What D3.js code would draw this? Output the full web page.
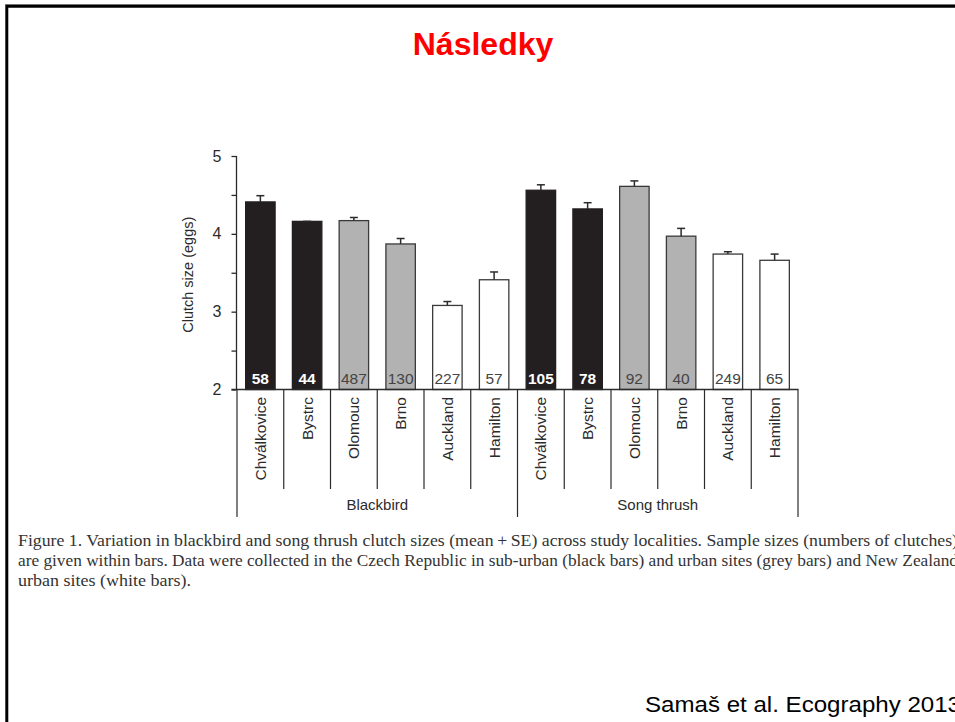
<!DOCTYPE html>
<html>
<head>
<meta charset="utf-8">
<script src="https://cdn.jsdelivr.net/npm/d3@7"></script>
<style>
  html, body { margin: 0; padding: 0; background: #fff; overflow: hidden; }
  svg { display: block; }
</style>
</head>
<body>
<svg id="chart" width="955" height="722"></svg>
<script>
// Clutch size per site for two thrush species
const species = ["Blackbird", "Song thrush"];
const sites = ["Chválkovice", "Bystrc", "Olomouc", "Brno", "Auckland", "Hamilton"];
const siteTypes = ["suburban", "suburban", "urban", "urban", "nz", "nz"];
const blackbirdMean = [4.41, 4.16, 4.17, 3.87, 3.08, 3.41];
const blackbirdSE   = [0.08, 0.00, 0.04, 0.07, 0.05, 0.10];
const blackbirdN    = [58, 44, 487, 130, 227, 57];
const songThrushMean = [4.56, 4.32, 4.61, 3.97, 3.74, 3.66];
const songThrushSE   = [0.07, 0.08, 0.07, 0.10, 0.03, 0.08];
const songThrushN    = [105, 78, 92, 40, 249, 65];
const yTicks = [2, 3, 4, 5];
const yMinorTicks = [2.5, 3.5, 4.5];

const titleText = "Následky";
const captionLines = [
  "Figure 1. Variation in blackbird and song thrush clutch sizes (mean\u2009+\u2009SE) across study localities. Sample sizes (numbers of clutches)",
  "are given within bars. Data were collected in the Czech Republic in sub-urban (black bars) and urban sites (grey bars) and New Zealand",
  "urban sites (white bars)."
];
const citation = "Samaš et al. Ecography 2013";

// Flat table built from the arrays above
const rows = [];
species.forEach((sp, si) => {
  const means = si === 0 ? blackbirdMean : songThrushMean;
  const ses = si === 0 ? blackbirdSE : songThrushSE;
  const ns = si === 0 ? blackbirdN : songThrushN;
  sites.forEach((site, i) => {
    rows.push({ key: sp + "|" + site, species: sp, site, type: siteTypes[i], mean: means[i], se: ses[i], n: ns[i] });
  });
});

const fillByType = { suburban: "#231f20", urban: "#b2b2b2", nz: "#ffffff" };
const strokeByType = { suburban: "#231f20", urban: "#3a3a3a", nz: "#3a3a3a" };
const labelByType = { suburban: "#ffffff", urban: "#444444", nz: "#444444" };

const svg = d3.select("#chart");
const sans = "Arial, 'Liberation Sans', Helvetica, sans-serif";
const ink = "#2b2b2b";

// Slide frame
svg.append("line").attr("x1", 5).attr("x2", 955).attr("y1", 4.5).attr("y2", 4.5)
  .attr("stroke", "#9a9a9a").attr("stroke-width", 1);
svg.append("path").attr("d", "M6.8,730 V6.3 H960")
  .attr("fill", "none").attr("stroke", "#000").attr("stroke-width", 3);

// Title
svg.append("text").attr("x", 483).attr("y", 55).attr("text-anchor", "middle")
  .attr("font-family", sans).attr("font-weight", "bold").attr("font-size", 32)
  .attr("fill", "#ff0000").text(titleText);

// Scales
const x = d3.scaleBand().domain(rows.map(d => d.key)).range([237, 798]).paddingInner(0.37).paddingOuter(0.185);
const step = x.step();
const y = d3.scaleLinear().domain([2, 5]).range([389.5, 156]);

const g = svg.append("g");

// Y axis
const yAxis = d3.axisLeft(y).tickValues(yTicks).tickSize(5).tickPadding(10).tickFormat(d3.format("d"));
const ya = g.append("g").attr("transform", "translate(236.5,0)").call(yAxis);
ya.select(".domain").attr("stroke", ink).attr("stroke-width", 1.3).attr("d", `M0,${y(5)}V${y(2)}`);
ya.selectAll(".tick line").attr("stroke", ink).attr("stroke-width", 1.3);
ya.selectAll(".tick text").attr("font-family", sans).attr("font-size", 16).attr("fill", ink);
const yMinor = d3.axisLeft(y).tickValues(yMinorTicks).tickSize(5).tickFormat("");
const ym = g.append("g").attr("transform", "translate(236.5,0)").call(yMinor);
ym.select(".domain").remove();
ym.selectAll(".tick line").attr("stroke", ink).attr("stroke-width", 1.3);

g.append("text")
  .attr("transform", `translate(193,${(y(2) + y(5)) / 2 + 2}) rotate(-90)`)
  .attr("text-anchor", "middle").attr("font-family", sans).attr("font-size", 14.5)
  .attr("fill", ink).text("Clutch size (eggs)");

// Bars
g.selectAll("rect.bar").data(rows).join("rect").attr("class", "bar")
  .attr("x", d => x(d.key)).attr("width", x.bandwidth())
  .attr("y", d => y(d.mean)).attr("height", d => y(2) - y(d.mean))
  .attr("fill", d => fillByType[d.type]).attr("stroke", d => strokeByType[d.type])
  .attr("stroke-width", 1.3);

// Error bars (mean + SE)
const eb = g.selectAll("g.err").data(rows).join("g").attr("class", "err");
eb.append("line")
  .attr("x1", d => x(d.key) + x.bandwidth() / 2).attr("x2", d => x(d.key) + x.bandwidth() / 2)
  .attr("y1", d => y(d.mean)).attr("y2", d => y(d.mean + d.se))
  .attr("stroke", ink).attr("stroke-width", 1.5);
eb.append("line")
  .attr("x1", d => x(d.key) + x.bandwidth() / 2 - 4).attr("x2", d => x(d.key) + x.bandwidth() / 2 + 4)
  .attr("y1", d => y(d.mean + d.se)).attr("y2", d => y(d.mean + d.se))
  .attr("stroke", ink).attr("stroke-width", 1.5);

// Sample sizes inside bars
g.selectAll("text.n").data(rows).join("text").attr("class", "n")
  .attr("x", d => x(d.key) + x.bandwidth() / 2).attr("y", y(2) - 5.5)
  .attr("text-anchor", "middle").attr("font-family", sans).attr("font-size", 15.5)
  .attr("font-weight", d => d.type === "suburban" ? "bold" : "normal")
  .attr("fill", d => labelByType[d.type]).text(d => d.n);

// Baseline
g.append("line").attr("x1", 231.5).attr("x2", 798.5).attr("y1", y(2)).attr("y2", y(2))
  .attr("stroke", ink).attr("stroke-width", 1.3);

// Category separators and labels
const left = x.range()[0];
rows.forEach((d, i) => {
  const bx = left + step * i;
  const isGroupEdge = i % sites.length === 0;
  g.append("line").attr("x1", bx).attr("x2", bx).attr("y1", y(2))
    .attr("y2", isGroupEdge ? 517 : 489).attr("stroke", ink).attr("stroke-width", 1.2);
});
g.append("line").attr("x1", x.range()[1]).attr("x2", x.range()[1]).attr("y1", y(2)).attr("y2", 517)
  .attr("stroke", ink).attr("stroke-width", 1.2);

g.selectAll("text.site").data(rows).join("text").attr("class", "site")
  .attr("transform", d => `translate(${x(d.key) + x.bandwidth() / 2 + 5.5},397) rotate(-90)`)
  .attr("text-anchor", "end").attr("font-family", sans).attr("font-size", 15.5)
  .attr("fill", ink).text(d => d.site);

species.forEach((sp, si) => {
  const x0 = left + step * sites.length * si;
  g.append("text").attr("x", x0 + step * sites.length / 2).attr("y", 510)
    .attr("text-anchor", "middle").attr("font-family", sans).attr("font-size", 15)
    .attr("fill", ink).text(sp);
});

// Figure caption
const capEnds = [958, 958, 191];
captionLines.forEach((line, i) => {
  svg.append("text").attr("x", 18).attr("y", 546 + i * 20)
    .attr("font-family", "'Liberation Serif', 'Times New Roman', serif").attr("font-size", 17)
    .attr("fill", "#333").attr("textLength", capEnds[i] - 18).attr("lengthAdjust", "spacingAndGlyphs")
    .text(line);
});

// Citation
svg.append("text").attr("x", 645).attr("y", 712).attr("font-family", sans).attr("font-size", 22)
  .attr("textLength", 316).attr("lengthAdjust", "spacingAndGlyphs")
  .attr("fill", "#000").text(citation);
</script>
</body>
</html>
